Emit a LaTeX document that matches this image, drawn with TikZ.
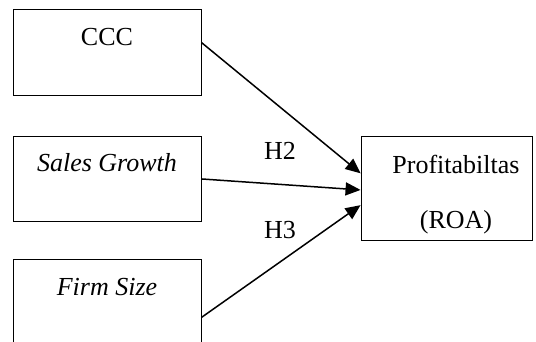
\documentclass[tikz,border=0pt]{standalone}
\usepackage{fontspec}
\setmainfont{Liberation Serif}
\usetikzlibrary{arrows.meta}

\tikzset{
  varbox/.style={draw, line width=.9pt, inner sep=0pt, anchor=north, font=\fontsize{26}{31}\selectfont},
  hyp/.style={inner sep=0pt, font=\fontsize{26}{31}\selectfont},
  effect/.style={line width=1.5pt, -{Triangle[length=15pt,width=13pt]}}
}

\begin{document}
\begin{tikzpicture}[x=1pt,y=-1pt]
\path[use as bounding box, clip] (0,0) rectangle (536,342);
\node[varbox, minimum width=188pt, text height=36pt, text depth=50pt] (ccc) at (107,9) {CCC};
\node[varbox, minimum width=188pt, text height=34.7pt, text depth=50.3pt] (sales) at (107,136) {\textit{Sales Growth}};
\node[varbox, minimum width=188pt, text height=36pt, text depth=80pt] (firm) at (107,259) {\textit{Firm Size}};
\node[varbox, minimum width=171pt, align=center, text height=92pt, text depth=12pt] (prof) at (446.5,136) {\hspace*{19pt}Profitabiltas\\[24.3pt]\hspace*{19pt}(ROA)};
\draw[effect] (ccc.6) -- (prof.170);
\draw[effect] (sales.east) -- (prof.181);
\draw[effect] (firm.east) -- (prof.191);
\node[hyp] (h2) at (280,151) {H2};
\node[hyp] (h3) at (280,230) {H3};
\end{tikzpicture}
\end{document}
